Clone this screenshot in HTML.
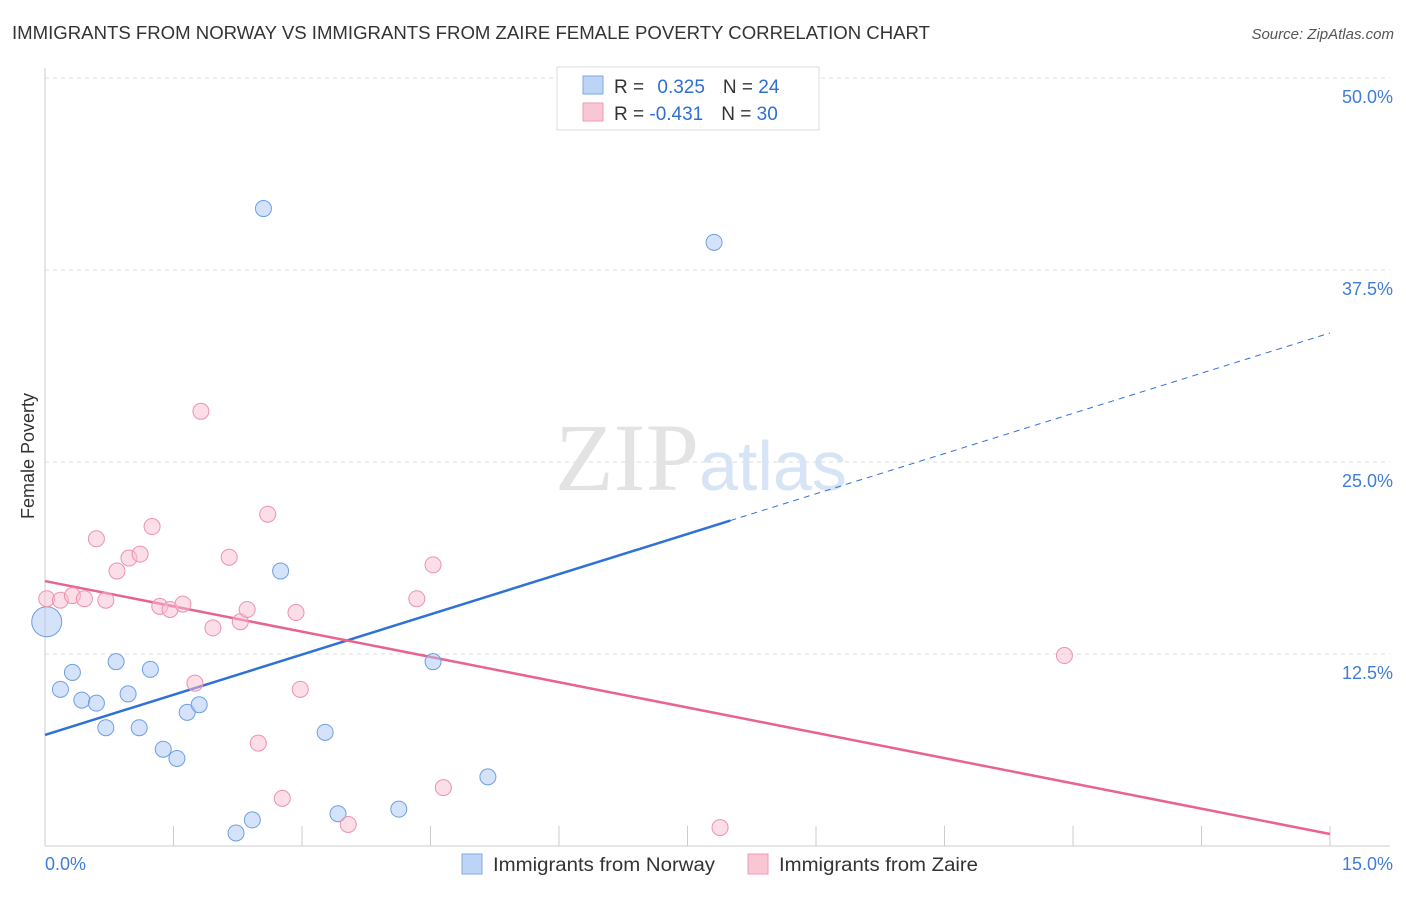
<!DOCTYPE html>
<html><head><meta charset="utf-8"><style>
body{margin:0;background:#fff;font-family:"Liberation Sans",sans-serif;}
</style></head><body>
<svg width="1406" height="892" xmlns="http://www.w3.org/2000/svg">
<text x="12" y="39" font-size="18" fill="#333" textLength="918" lengthAdjust="spacingAndGlyphs">IMMIGRANTS FROM NORWAY VS IMMIGRANTS FROM ZAIRE FEMALE POVERTY CORRELATION CHART</text>
<text x="1394" y="39" font-size="15" fill="#555" font-style="italic" text-anchor="end">Source: ZipAtlas.com</text>
<text x="34" y="456" font-size="18" fill="#333" transform="rotate(-90 34 456)" text-anchor="middle">Female Poverty</text>
<g id="grid"></g><g id="axes"></g>
<text x="555" y="490" font-size="96" fill="#e3e3e3" font-family="Liberation Serif">ZIP<tspan fill="#d6e4f5" font-family="Liberation Sans" font-size="70">atlas</tspan></text>
<g id="trends"></g><g id="pts"></g>
<g>
<rect x="557" y="67" width="262" height="63" fill="#fff" stroke="#ddd"/>
<rect x="583" y="76" width="20" height="18" fill="#bcd4f5" stroke="#7fa8e0"/>
<rect x="583" y="103" width="20" height="18" fill="#f9c6d4" stroke="#ee9ab3"/>
<text x="614" y="93" font-size="19" fill="#333">R = <tspan fill="#2f6fd0" dx="8">0.325</tspan><tspan dx="18">N = </tspan><tspan fill="#2f6fd0">24</tspan></text>
<text x="614" y="120" font-size="19" fill="#333">R = <tspan fill="#2f6fd0">-0.431</tspan><tspan dx="18">N = </tspan><tspan fill="#2f6fd0">30</tspan></text>
</g>
<g>
<rect x="462" y="854" width="20" height="20" fill="#bcd4f5" stroke="#7fa8e0"/>
<text x="493" y="871" font-size="19" fill="#333" textLength="222" lengthAdjust="spacingAndGlyphs">Immigrants from Norway</text>
<rect x="748" y="854" width="20" height="20" fill="#f9c6d4" stroke="#ee9ab3"/>
<text x="779" y="871" font-size="19" fill="#333" textLength="199" lengthAdjust="spacingAndGlyphs">Immigrants from Zaire</text>
</g>
</svg>
<script>
const yTicks=[12.5,25,37.5,50];
const yTickLabels=["12.5%","25.0%","37.5%","50.0%"];
const blueX=[0.02,0.18,0.32,0.43,0.6,0.71,0.83,0.97,1.1,1.23,1.38,1.54,1.66,1.8,2.23,2.42,2.55,2.75,3.27,3.42,4.13,4.53,5.17,7.81];
const blueY=[14.6,10.2,11.3,9.5,9.3,7.7,12.0,9.9,7.7,11.5,6.3,5.7,8.7,9.2,0.85,1.7,41.5,17.9,7.4,2.1,2.4,12.0,4.5,39.3];
const pinkX=[0.02,0.18,0.32,0.46,0.6,0.71,0.84,0.98,1.11,1.25,1.34,1.46,1.61,1.75,1.82,1.96,2.15,2.28,2.36,2.49,2.6,2.77,2.93,2.98,3.54,4.34,4.53,4.65,7.88,11.9];
const pinkY=[16.1,16.0,16.3,16.1,20.0,16.0,17.9,18.75,19.0,20.8,15.6,15.4,15.75,10.6,28.3,14.2,18.8,14.6,15.4,6.7,21.6,3.1,15.2,10.2,1.4,16.1,18.3,3.8,1.2,12.4];
const blueTrend=[7.23,33.4]; const pinkTrend=[17.25,0.78];
const NS="http://www.w3.org/2000/svg";
const X=v=>45+v*(1285/15), Y=v=>846-v*15.36;
function mk(p,t,a){const e=document.createElementNS(NS,t);for(const k in a)e.setAttribute(k,a[k]);document.getElementById(p).appendChild(e);return e;}
yTicks.forEach((t,i)=>{
 let l=mk('grid','line',{x1:45,x2:1390,y1:Y(t),y2:Y(t),stroke:'#ddd','stroke-dasharray':'4 4'});
 
 
 let tx=mk('grid','text',{x:1393,y:Y(t)+25,'font-size':18,fill:'#3f7dd6','text-anchor':'end'});tx.textContent=yTickLabels[i];
 
 
});
mk('axes','line',{x1:45,x2:45,y1:68,y2:846,stroke:'#ccc'});
mk('axes','line',{x1:45,x2:1390,y1:846,y2:846,stroke:'#ccc'});
for(let i=0;i<=10;i++){mk('axes','line',{x1:X(i*1.5),x2:X(i*1.5),y1:826,y2:846,stroke:'#ccc'});}
let a=mk('axes','text',{x:45,y:870,'font-size':18,fill:'#3f7dd6'});a.textContent='0.0%';


let b=mk('axes','text',{x:1393,y:870,'font-size':18,fill:'#3f7dd6','text-anchor':'end'});b.textContent='15.0%';


const bm=8; const by=blueTrend[0]+(blueTrend[1]-blueTrend[0])*bm/15;
let t1=mk('trends','line',{x1:X(0),y1:Y(blueTrend[0]),x2:X(bm),y2:Y(by),stroke:'#2f72d6','stroke-width':2.5});


let t2=mk('trends','line',{x1:X(bm),y1:Y(by),x2:X(15),y2:Y(blueTrend[1]),stroke:'#2f72d6','stroke-width':1,'stroke-dasharray':'6 5'});


let t3=mk('trends','line',{x1:X(0),y1:Y(pinkTrend[0]),x2:X(15),y2:Y(pinkTrend[1]),stroke:'#e8638e','stroke-width':2.5});


blueX.forEach((x,i)=>{let c=mk('pts','circle',{cx:X(x),cy:Y(blueY[i]),r:i==0?15:8,fill:'rgba(170,200,245,0.5)',stroke:'#6f9fe0','stroke-width':1});
 
 });
pinkX.forEach((x,i)=>{let c=mk('pts','circle',{cx:X(x),cy:Y(pinkY[i]),r:8,fill:'rgba(248,190,208,0.5)',stroke:'#ec93ae','stroke-width':1});
 
 });
</script>
</body></html>
